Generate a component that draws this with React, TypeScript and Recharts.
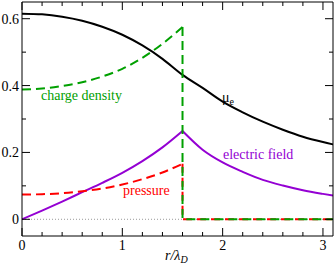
import React from "react";
import { ComposedChart, Line, XAxis, YAxis, ReferenceLine } from "recharts";

// r / lambda_D sample points and curves
const rMu = [0, 0.2, 0.4, 0.6, 0.8, 1.0, 1.2, 1.4, 1.6, 1.8, 2.0, 2.2, 2.4, 2.6, 2.8, 3.0, 3.1];
const muE = [0.615, 0.613, 0.606, 0.594, 0.576, 0.552, 0.52, 0.48, 0.432, 0.393, 0.352, 0.32, 0.292, 0.268, 0.247, 0.231, 0.224];

// inside the column (r <= 1.6)
const rInner = [0, 0.2, 0.4, 0.6, 0.8, 1.0, 1.2, 1.4, 1.6];
const fieldInner = [0, 0.026, 0.053, 0.081, 0.109, 0.139, 0.174, 0.215, 0.264];
const chargeInner = [0.388, 0.391, 0.399, 0.41, 0.427, 0.45, 0.483, 0.525, 0.575];
const pressureInner = [0.074, 0.075, 0.078, 0.084, 0.092, 0.104, 0.12, 0.14, 0.166];

// outside (r >= 1.6)
const rOuter = [1.6, 1.8, 2.0, 2.2, 2.4, 2.6, 2.8, 3.0, 3.1];
const fieldOuter = [0.264, 0.208, 0.17, 0.142, 0.118, 0.101, 0.087, 0.076, 0.071];

// charge density and pressure drop to zero at the edge
const rEdge = [1.6, 1.6, 3.1];
const chargeEdge = [0.575, 0, 0];
const pressureEdge = [0.166, 0, 0];

const xTicks = [0, 0.2, 0.4, 0.6, 0.8, 1, 1.2, 1.4, 1.6, 1.8, 2, 2.2, 2.4, 2.6, 2.8, 3];
const xLabels = [0, 1, 2, 3];
const yTicks = [0, 0.1, 0.2, 0.3, 0.4, 0.5, 0.6];
const yLabels = [0, 0.2, 0.4, 0.6];

const FONT = "Liberation Serif";
const GREEN = "#00a000";
const RED = "#ff0000";
const VIOLET = "#9400d3";

const toPts = (xs: number[], ys: number[]) => xs.map((r, i) => ({ r, v: ys[i] }));
const isLabel = (list: number[], v: number) => list.some((l) => Math.abs(l - v) < 1e-6);
const txt = { fontFamily: FONT, fontSize: 14 };

// ticks point into the plot; labels only on bottom / left
const BottomTick = (p: any) => {
  const v = p.payload.value;
  const major = isLabel(xLabels, v);
  return (
    <g>
      <line x1={p.x} x2={p.x} y1={p.y} y2={p.y - (major ? 8 : 4)} stroke="#000" />
      {major && (
        <text x={p.x} y={p.y + 14} textAnchor="middle" style={txt} fill="#000">
          {v}
        </text>
      )}
    </g>
  );
};

const TopTick = (p: any) => {
  const major = isLabel(xLabels, p.payload.value);
  return <line x1={p.x} x2={p.x} y1={p.y} y2={p.y + (major ? 8 : 4)} stroke="#000" />;
};

const LeftTick = (p: any) => {
  const v = p.payload.value;
  const major = isLabel(yLabels, v);
  return (
    <g>
      <line x1={p.x} x2={p.x + (major ? 8 : 4)} y1={p.y} y2={p.y} stroke="#000" />
      {major && (
        <text x={p.x - 3} y={p.y + 5} textAnchor="end" style={txt} fill="#000">
          {String(v)}
        </text>
      )}
    </g>
  );
};

const RightTick = (p: any) => {
  const major = isLabel(yLabels, p.payload.value);
  return <line x1={p.x} x2={p.x - (major ? 8 : 4)} y1={p.y} y2={p.y} stroke="#000" />;
};

const curve = (xs: number[], ys: number[], stroke: string, type: "monotone" | "linear", dash?: string) => (
  <Line
    xAxisId="b"
    yAxisId="l"
    data={toPts(xs, ys)}
    dataKey="v"
    type={type}
    stroke={stroke}
    strokeWidth={2}
    strokeDasharray={dash}
    dot={false}
    activeDot={false}
    isAnimationActive={false}
  />
);

export default function App() {
  return (
    <div style={{ position: "absolute", left: 0, top: 0, width: 336, height: 270, background: "#fff" }}>
      <ComposedChart width={336} height={270} margin={{ top: 0, right: 1, bottom: 0, left: 0 }}>
        <XAxis
          xAxisId="b"
          dataKey="r"
          type="number"
          domain={[0, 3.1]}
          ticks={xTicks}
          interval={0}
          height={34}
          tickSize={0}
          tickMargin={0}
          tickLine={false}
          axisLine={{ stroke: "#000" }}
          tick={<BottomTick />}
          allowDataOverflow
        />
        <XAxis
          xAxisId="t"
          orientation="top"
          dataKey="r"
          type="number"
          domain={[0, 3.1]}
          ticks={xTicks}
          interval={0}
          height={2}
          tickSize={0}
          tickMargin={0}
          tickLine={false}
          axisLine={{ stroke: "#000" }}
          tick={<TopTick />}
          allowDataOverflow
        />
        <YAxis
          yAxisId="l"
          type="number"
          domain={[-0.05, 0.65]}
          ticks={yTicks}
          interval={0}
          width={22}
          tickSize={0}
          tickMargin={0}
          tickLine={false}
          axisLine={{ stroke: "#000" }}
          tick={<LeftTick />}
          allowDataOverflow
        />
        <YAxis
          yAxisId="r"
          orientation="right"
          type="number"
          domain={[-0.05, 0.65]}
          ticks={yTicks}
          interval={0}
          width={2}
          tickSize={0}
          tickMargin={0}
          tickLine={false}
          axisLine={{ stroke: "#000" }}
          tick={<RightTick />}
          allowDataOverflow
        />
        <ReferenceLine xAxisId="b" yAxisId="l" y={0} stroke="#999" strokeDasharray="1 2" />
        {curve(rMu, muE, "#000", "monotone")}
        {curve(rInner, fieldInner, VIOLET, "monotone")}
        {curve(rOuter, fieldOuter, VIOLET, "monotone")}
        {curve(rInner, pressureInner, RED, "monotone", "9 5")}
        {curve(rEdge, pressureEdge, RED, "linear", "9 5")}
        {curve(rInner, chargeInner, GREEN, "monotone", "9 5")}
        {curve(rEdge, chargeEdge, GREEN, "linear", "9 5")}
      </ComposedChart>
      <svg
        width={336}
        height={270}
        style={{ position: "absolute", left: 0, top: 0, pointerEvents: "none", ...txt }}
      >
        <text x={41} y={100} fill={GREEN}>charge density</text>
        <text x={222} y={102} fill="#000">
          μ<tspan dy={3} fontSize={10}>e</tspan>
        </text>
        <text x={223} y={159} fill={VIOLET}>electric field</text>
        <text x={123} y={195} fill={RED}>pressure</text>
        <text x={165} y={260} fill="#000" fontStyle="italic">
          r/λ<tspan dy={3} fontSize={10}>D</tspan>
        </text>
      </svg>
    </div>
  );
}
